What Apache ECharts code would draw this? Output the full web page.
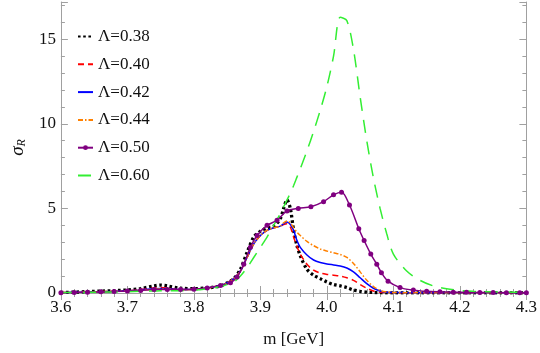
<!DOCTYPE html>
<html>
<head>
<meta charset="utf-8">
<script src="https://cdn.jsdelivr.net/npm/echarts@6/dist/echarts.min.js"></script>
<style>
  html, body { margin: 0; padding: 0; background: #fff; }
  #chart { width: 540px; height: 353px; }
</style>
</head>
<body>
<div id="chart"></div>
<script>
// mass grid shared by the smooth curves (GeV)
var mass = [3.60, 3.62, 3.64, 3.66, 3.68, 3.70, 3.72, 3.74, 3.75, 3.76, 3.78, 3.80, 3.82, 3.84,
  3.85, 3.86, 3.87, 3.88, 3.89, 3.90, 3.91, 3.92, 3.93, 3.935, 3.94, 3.945, 3.95, 3.955, 3.96,
  3.97, 3.98, 3.99, 4.00, 4.01, 4.02, 4.03, 4.04, 4.05, 4.06, 4.07, 4.08, 4.09, 4.10, 4.12,
  4.14, 4.16, 4.18, 4.20, 4.22, 4.24, 4.26, 4.28, 4.30];

var sigma038 = [0.03, 0.05, 0.08, 0.11, 0.14, 0.18, 0.26, 0.42, 0.47, 0.42, 0.28, 0.26, 0.30, 0.42,
  0.60, 0.85, 1.4, 2.4, 3.3, 3.65, 3.85, 3.95, 4.4, 5.0, 5.5, 5.0, 3.7, 2.8, 2.2,
  1.4, 1.05, 0.85, 0.65, 0.5, 0.42, 0.32, 0.18, 0.10, 0.05, 0.03, 0.02, 0.01, 0.01, 0.01,
  0.01, 0.01, 0.01, 0.01, 0.01, 0.01, 0.01, 0.01, 0.01];

var sigma040 = [0.02, 0.04, 0.06, 0.08, 0.11, 0.14, 0.20, 0.30, 0.32, 0.29, 0.21, 0.22, 0.30, 0.45,
  0.60, 0.85, 1.3, 2.1, 2.9, 3.4, 3.7, 3.85, 3.95, 4.05, 4.1, 3.9, 3.3, 2.75, 2.3,
  1.7, 1.35, 1.18, 1.1, 1.05, 1.0, 0.9, 0.75, 0.5, 0.28, 0.12, 0.05, 0.03, 0.02, 0.01,
  0.01, 0.01, 0.01, 0.01, 0.01, 0.01, 0.01, 0.01, 0.01];

var sigma042 = [0.02, 0.04, 0.06, 0.08, 0.10, 0.13, 0.18, 0.25, 0.27, 0.25, 0.20, 0.21, 0.29, 0.44,
  0.60, 0.85, 1.3, 2.1, 2.9, 3.4, 3.7, 3.85, 3.95, 4.1, 4.2, 4.05, 3.7, 3.1, 2.7,
  2.25, 1.95, 1.8, 1.72, 1.66, 1.6, 1.48, 1.25, 0.9, 0.55, 0.28, 0.12, 0.05, 0.03, 0.02,
  0.01, 0.01, 0.01, 0.01, 0.01, 0.01, 0.01, 0.01, 0.01];

var sigma044 = [0.02, 0.04, 0.06, 0.08, 0.10, 0.12, 0.16, 0.22, 0.24, 0.23, 0.19, 0.21, 0.29, 0.44,
  0.60, 0.85, 1.3, 2.1, 2.9, 3.4, 3.7, 3.85, 3.95, 4.15, 4.25, 4.15, 3.85, 3.6, 3.4,
  3.05, 2.8, 2.6, 2.48, 2.38, 2.28, 2.1, 1.75, 1.25, 0.75, 0.38, 0.15, 0.06, 0.03, 0.02,
  0.01, 0.01, 0.01, 0.01, 0.01, 0.01, 0.01, 0.01, 0.01];

var sigma060 = [0.02, 0.03, 0.04, 0.05, 0.06, 0.08, 0.10, 0.12, 0.13, 0.13, 0.14, 0.17, 0.25, 0.38,
  0.50, 0.65, 1.0, 1.5, 2.1, 2.7, 3.3, 4.0, 4.7, 5.1, 5.5, 5.9, 6.35, 6.85, 7.35,
  8.4, 9.55, 10.8, 12.2, 14.0, 16.3, 16.1, 14.4, 11.6, 9.0, 6.8, 5.0, 3.5, 2.3, 1.3,
  0.75, 0.42, 0.25, 0.15, 0.10, 0.08, 0.06, 0.05, 0.04];

// Lambda = 0.50 drawn with markers at its own sample points
var massP = [3.60, 3.62, 3.64, 3.66, 3.68, 3.70, 3.72, 3.74, 3.76, 3.78, 3.80, 3.82, 3.84, 3.855,
  3.865, 3.875, 3.885, 3.895, 3.91, 3.925, 3.94, 3.957, 3.976, 3.995, 4.01, 4.022, 4.034, 4.048,
  4.056, 4.066, 4.075, 4.082, 4.092, 4.11, 4.13, 4.15, 4.17, 4.19, 4.21, 4.23, 4.25, 4.27, 4.29, 4.30];
var sigma050 = [0.02, 0.03, 0.05, 0.07, 0.09, 0.12, 0.15, 0.20, 0.21, 0.20, 0.22, 0.30, 0.45, 0.60,
  0.95, 1.7, 2.7, 3.4, 4.0, 4.3, 4.85, 5.0, 5.1, 5.4, 5.8, 5.95, 5.2, 3.8,
  3.1, 2.3, 1.7, 1.2, 0.7, 0.32, 0.17, 0.10, 0.07, 0.05, 0.04, 0.03, 0.03, 0.02, 0.02, 0.02];

var labels = ['Λ=0.38', 'Λ=0.40', 'Λ=0.42', 'Λ=0.44', 'Λ=0.50', 'Λ=0.60'];

function pairs(xs, ys) {
  return xs.map(function (x, i) { return [x, ys[i]]; });
}

var serif = 'Liberation Serif';
var frameColor = '#a0a0a0';

function curve(name, xs, ys, color, width, type) {
  return {
    name: name,
    type: 'line',
    data: pairs(xs, ys),
    smooth: 0.3,
    symbol: 'none',
    lineStyle: { color: color, width: width, type: type },
    itemStyle: { color: color }
  };
}

var series = [
  curve(labels[0], mass, sigma038, '#000000', 3.3, [2.6, 2.6]),
  curve(labels[1], mass, sigma040, '#ff0000', 1.5, [6, 4]),
  curve(labels[2], mass, sigma042, '#0000ff', 1.5, 'solid'),
  curve(labels[3], mass, sigma044, '#ff8000', 1.5, [5, 2, 1.5, 2]),
  {
    name: labels[4],
    type: 'line',
    data: pairs(massP, sigma050),
    smooth: 0.3,
    symbol: 'circle',
    symbolSize: 5,
    showSymbol: true,
    showAllSymbol: true,
    lineStyle: { color: '#800080', width: 1.5 },
    itemStyle: { color: '#800080' }
  },
  curve(labels[5], mass, sigma060, '#33ee33', 1.5, [13, 9])
];

// legend entries: only the marker series keeps its dot
var legendData = labels.map(function (name, i) {
  return { name: name, itemStyle: { opacity: i === 4 ? 1 : 0 } };
});

var tickStyle = { color: frameColor, width: 1 };

var option = {
  animation: false,
  backgroundColor: '#ffffff',
  grid: { left: 46, right: 11, top: 2, bottom: 56 },
  legend: {
    orient: 'vertical',
    left: 72,
    top: 23,
    itemWidth: 15,
    itemHeight: 6,
    itemGap: 10.8,
    textStyle: { fontFamily: serif, fontSize: 17, color: '#111' },
    data: legendData
  },
  xAxis: [{
    type: 'value',
    min: 3.6,
    max: 4.3,
    interval: 0.1,
    name: 'm [GeV]',
    nameLocation: 'middle',
    nameGap: 38,
    nameTextStyle: { fontFamily: serif, fontSize: 17, color: '#111' },
    axisLine: { show: true, lineStyle: { color: frameColor } },
    axisTick: { show: true, inside: true, length: 7, lineStyle: tickStyle },
    minorTick: { show: true, splitNumber: 5, length: 4, lineStyle: tickStyle },
    axisLabel: {
      fontFamily: serif, fontSize: 17, color: '#111', margin: 6,
      formatter: function (v) { return v.toFixed(1); }
    },
    splitLine: { show: false }
  }, {
    type: 'value',
    position: 'top',
    min: 3.6,
    max: 4.3,
    interval: 0.1,
    axisLine: { show: true, lineStyle: { color: frameColor } },
    axisTick: { show: true, inside: true, length: 7, lineStyle: tickStyle },
    minorTick: { show: true, splitNumber: 5, length: 4, lineStyle: tickStyle },
    axisLabel: { show: false },
    splitLine: { show: false }
  }],
  yAxis: [{
    type: 'value',
    min: 0,
    max: 17.2,
    interval: 5,
    name: '{s|σ}{r|R}',
    nameLocation: 'middle',
    nameGap: 29,
    nameRotate: 90,
    nameTextStyle: {
      rich: {
        s: { fontFamily: serif, fontStyle: 'italic', fontSize: 19, color: '#111' },
        r: { fontFamily: serif, fontStyle: 'italic', fontSize: 12, color: '#111', verticalAlign: 'bottom', padding: [9, 0, 0, 0] }
      }
    },
    axisLine: { show: true, lineStyle: { color: frameColor } },
    axisTick: { show: true, inside: true, length: 7, lineStyle: tickStyle },
    minorTick: { show: true, splitNumber: 5, length: 4, lineStyle: tickStyle },
    axisLabel: { fontFamily: serif, fontSize: 17, color: '#111', margin: 5, showMaxLabel: false },
    splitLine: { show: false }
  }, {
    type: 'value',
    position: 'right',
    min: 0,
    max: 17.2,
    interval: 5,
    axisLine: { show: true, lineStyle: { color: frameColor } },
    axisTick: { show: true, inside: true, length: 7, lineStyle: tickStyle },
    minorTick: { show: true, splitNumber: 5, length: 4, lineStyle: tickStyle },
    axisLabel: { show: false },
    splitLine: { show: false }
  }],
  series: series
};

var myChart = echarts.init(document.getElementById('chart'), null, { renderer: 'canvas' });
myChart.setOption(option);
</script>
</body>
</html>
